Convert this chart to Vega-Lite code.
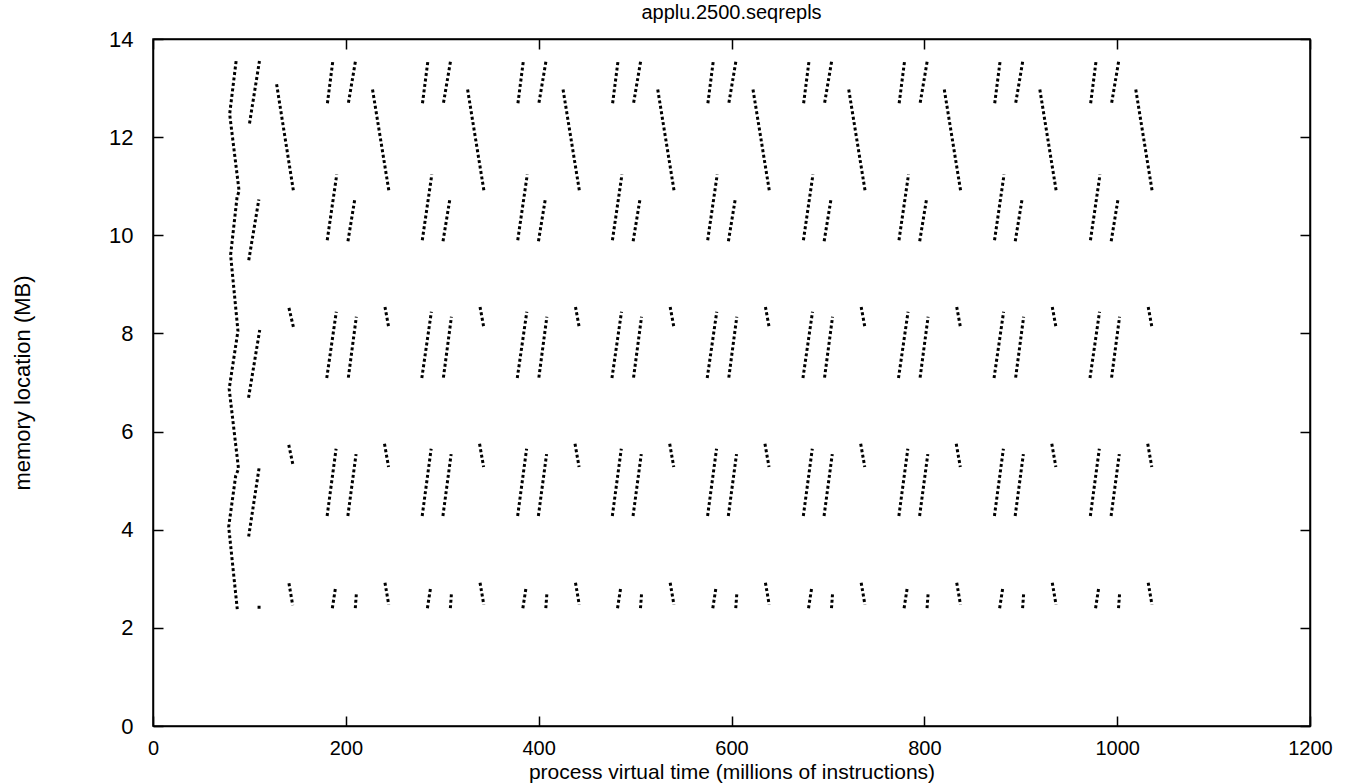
{
  "$schema": "https://vega.github.io/schema/vega-lite/v6.json",
  "autosize": {"type": "none"},
  "padding": {"left": 153, "top": 39, "right": 50, "bottom": 57},
  "width": 1157,
  "height": 687,
  "background": "white",
  "title": {"text": "applu.2500.seqrepls", "font": "Liberation Sans", "fontSize": 20, "fontWeight": "normal", "color": "black", "offset": 5},
  "config": {"view": {"stroke": "black", "strokeWidth": 1.5}},
  "datasets": {
    "segs": [
      {"p":1,"x":100.1,"y":12.28,"x2":110.4,"y2":13.55},
      {"p":1,"x":99.3,"y":9.49,"x2":109.8,"y2":10.73},
      {"p":1,"x":99.1,"y":6.69,"x2":110.7,"y2":8.07},
      {"p":1,"x":99.2,"y":3.86,"x2":110.2,"y2":5.28},
      {"p":1,"x":128.2,"y":13.08,"x2":145.6,"y2":10.91},
      {"p":1,"x":141.0,"y":8.52,"x2":146.0,"y2":8.10},
      {"p":1,"x":140.8,"y":5.73,"x2":145.5,"y2":5.29},
      {"p":1,"x":141.0,"y":2.91,"x2":144.9,"y2":2.46},

      {"p":2,"x":180.9,"y":12.69,"x2":186.5,"y2":13.55},
      {"p":2,"x":202.7,"y":12.70,"x2":210.0,"y2":13.55},
      {"p":2,"x":227.7,"y":12.97,"x2":244.7,"y2":10.90},
      {"p":2,"x":180.7,"y":9.90,"x2":190.6,"y2":11.24},
      {"p":2,"x":202.2,"y":9.88,"x2":209.4,"y2":10.75},
      {"p":2,"x":240.6,"y":8.54,"x2":244.6,"y2":8.11},
      {"p":2,"x":180.2,"y":7.09,"x2":190.1,"y2":8.44},
      {"p":2,"x":202.6,"y":7.10,"x2":210.9,"y2":8.34},
      {"p":2,"x":240.1,"y":5.75,"x2":244.3,"y2":5.28},
      {"p":2,"x":180.6,"y":4.28,"x2":189.9,"y2":5.65},
      {"p":2,"x":202.1,"y":4.28,"x2":210.6,"y2":5.54},
      {"p":2,"x":240.6,"y":2.92,"x2":244.5,"y2":2.47},
      {"p":2,"x":186.0,"y":2.40,"x2":189.3,"y2":2.82},
      {"p":2,"x":209.8,"y":2.40,"x2":211.0,"y2":2.72},

      {"p":3,"x":279.5,"y":12.69,"x2":285.1,"y2":13.55},
      {"p":3,"x":301.3,"y":12.70,"x2":308.6,"y2":13.55},
      {"p":3,"x":326.3,"y":12.97,"x2":343.3,"y2":10.90},
      {"p":3,"x":279.3,"y":9.90,"x2":289.2,"y2":11.24},
      {"p":3,"x":300.8,"y":9.88,"x2":308.0,"y2":10.75},
      {"p":3,"x":339.2,"y":8.54,"x2":343.2,"y2":8.11},
      {"p":3,"x":278.8,"y":7.09,"x2":288.7,"y2":8.44},
      {"p":3,"x":301.2,"y":7.10,"x2":309.5,"y2":8.34},
      {"p":3,"x":338.7,"y":5.75,"x2":342.9,"y2":5.28},
      {"p":3,"x":279.2,"y":4.28,"x2":288.5,"y2":5.65},
      {"p":3,"x":300.7,"y":4.28,"x2":309.2,"y2":5.54},
      {"p":3,"x":339.2,"y":2.92,"x2":343.1,"y2":2.47},
      {"p":3,"x":284.6,"y":2.40,"x2":287.9,"y2":2.82},
      {"p":3,"x":308.4,"y":2.40,"x2":309.6,"y2":2.72},

      {"p":4,"x":378.5,"y":12.69,"x2":384.1,"y2":13.55},
      {"p":4,"x":400.3,"y":12.70,"x2":407.6,"y2":13.55},
      {"p":4,"x":425.3,"y":12.97,"x2":442.3,"y2":10.90},
      {"p":4,"x":378.3,"y":9.90,"x2":388.2,"y2":11.24},
      {"p":4,"x":399.8,"y":9.88,"x2":407.0,"y2":10.75},
      {"p":4,"x":438.2,"y":8.54,"x2":442.2,"y2":8.11},
      {"p":4,"x":377.8,"y":7.09,"x2":387.7,"y2":8.44},
      {"p":4,"x":400.2,"y":7.10,"x2":408.5,"y2":8.34},
      {"p":4,"x":437.7,"y":5.75,"x2":441.9,"y2":5.28},
      {"p":4,"x":378.2,"y":4.28,"x2":387.5,"y2":5.65},
      {"p":4,"x":399.7,"y":4.28,"x2":408.2,"y2":5.54},
      {"p":4,"x":438.2,"y":2.92,"x2":442.1,"y2":2.47},
      {"p":4,"x":383.6,"y":2.40,"x2":386.9,"y2":2.82},
      {"p":4,"x":407.4,"y":2.40,"x2":408.6,"y2":2.72},

      {"p":5,"x":476.7,"y":12.69,"x2":482.3,"y2":13.55},
      {"p":5,"x":498.5,"y":12.70,"x2":505.8,"y2":13.55},
      {"p":5,"x":523.5,"y":12.97,"x2":540.5,"y2":10.90},
      {"p":5,"x":476.5,"y":9.90,"x2":486.4,"y2":11.24},
      {"p":5,"x":498.0,"y":9.88,"x2":505.2,"y2":10.75},
      {"p":5,"x":536.4,"y":8.54,"x2":540.4,"y2":8.11},
      {"p":5,"x":476.0,"y":7.09,"x2":485.9,"y2":8.44},
      {"p":5,"x":498.4,"y":7.10,"x2":506.7,"y2":8.34},
      {"p":5,"x":535.9,"y":5.75,"x2":540.1,"y2":5.28},
      {"p":5,"x":476.4,"y":4.28,"x2":485.7,"y2":5.65},
      {"p":5,"x":497.9,"y":4.28,"x2":506.4,"y2":5.54},
      {"p":5,"x":536.4,"y":2.92,"x2":540.3,"y2":2.47},
      {"p":5,"x":481.8,"y":2.40,"x2":485.1,"y2":2.82},
      {"p":5,"x":505.6,"y":2.40,"x2":506.8,"y2":2.72},

      {"p":6,"x":575.5,"y":12.69,"x2":581.1,"y2":13.55},
      {"p":6,"x":597.3,"y":12.70,"x2":604.6,"y2":13.55},
      {"p":6,"x":622.3,"y":12.97,"x2":639.3,"y2":10.90},
      {"p":6,"x":575.3,"y":9.90,"x2":585.2,"y2":11.24},
      {"p":6,"x":596.8,"y":9.88,"x2":604.0,"y2":10.75},
      {"p":6,"x":635.2,"y":8.54,"x2":639.2,"y2":8.11},
      {"p":6,"x":574.8,"y":7.09,"x2":584.7,"y2":8.44},
      {"p":6,"x":597.2,"y":7.10,"x2":605.5,"y2":8.34},
      {"p":6,"x":634.7,"y":5.75,"x2":638.9,"y2":5.28},
      {"p":6,"x":575.2,"y":4.28,"x2":584.5,"y2":5.65},
      {"p":6,"x":596.7,"y":4.28,"x2":605.2,"y2":5.54},
      {"p":6,"x":635.2,"y":2.92,"x2":639.1,"y2":2.47},
      {"p":6,"x":580.6,"y":2.40,"x2":583.9,"y2":2.82},
      {"p":6,"x":604.4,"y":2.40,"x2":605.6,"y2":2.72},

      {"p":7,"x":674.8,"y":12.69,"x2":680.4,"y2":13.55},
      {"p":7,"x":696.6,"y":12.70,"x2":703.9,"y2":13.55},
      {"p":7,"x":721.6,"y":12.97,"x2":738.6,"y2":10.90},
      {"p":7,"x":674.6,"y":9.90,"x2":684.5,"y2":11.24},
      {"p":7,"x":696.1,"y":9.88,"x2":703.3,"y2":10.75},
      {"p":7,"x":734.5,"y":8.54,"x2":738.5,"y2":8.11},
      {"p":7,"x":674.1,"y":7.09,"x2":684.0,"y2":8.44},
      {"p":7,"x":696.5,"y":7.10,"x2":704.8,"y2":8.34},
      {"p":7,"x":734.0,"y":5.75,"x2":738.2,"y2":5.28},
      {"p":7,"x":674.5,"y":4.28,"x2":683.8,"y2":5.65},
      {"p":7,"x":696.0,"y":4.28,"x2":704.5,"y2":5.54},
      {"p":7,"x":734.5,"y":2.92,"x2":738.4,"y2":2.47},
      {"p":7,"x":679.9,"y":2.40,"x2":683.2,"y2":2.82},
      {"p":7,"x":703.7,"y":2.40,"x2":704.9,"y2":2.72},

      {"p":8,"x":773.9,"y":12.69,"x2":779.5,"y2":13.55},
      {"p":8,"x":795.7,"y":12.70,"x2":803.0,"y2":13.55},
      {"p":8,"x":820.7,"y":12.97,"x2":837.7,"y2":10.90},
      {"p":8,"x":773.7,"y":9.90,"x2":783.6,"y2":11.24},
      {"p":8,"x":795.2,"y":9.88,"x2":802.4,"y2":10.75},
      {"p":8,"x":833.6,"y":8.54,"x2":837.6,"y2":8.11},
      {"p":8,"x":773.2,"y":7.09,"x2":783.1,"y2":8.44},
      {"p":8,"x":795.6,"y":7.10,"x2":803.9,"y2":8.34},
      {"p":8,"x":833.1,"y":5.75,"x2":837.3,"y2":5.28},
      {"p":8,"x":773.6,"y":4.28,"x2":782.9,"y2":5.65},
      {"p":8,"x":795.1,"y":4.28,"x2":803.6,"y2":5.54},
      {"p":8,"x":833.6,"y":2.92,"x2":837.5,"y2":2.47},
      {"p":8,"x":779.0,"y":2.40,"x2":782.3,"y2":2.82},
      {"p":8,"x":802.8,"y":2.40,"x2":804.0,"y2":2.72},

      {"p":9,"x":873.0,"y":12.69,"x2":878.6,"y2":13.55},
      {"p":9,"x":894.8,"y":12.70,"x2":902.1,"y2":13.55},
      {"p":9,"x":919.8,"y":12.97,"x2":936.8,"y2":10.90},
      {"p":9,"x":872.8,"y":9.90,"x2":882.7,"y2":11.24},
      {"p":9,"x":894.3,"y":9.88,"x2":901.5,"y2":10.75},
      {"p":9,"x":932.7,"y":8.54,"x2":936.7,"y2":8.11},
      {"p":9,"x":872.3,"y":7.09,"x2":882.2,"y2":8.44},
      {"p":9,"x":894.7,"y":7.10,"x2":903.0,"y2":8.34},
      {"p":9,"x":932.2,"y":5.75,"x2":936.4,"y2":5.28},
      {"p":9,"x":872.7,"y":4.28,"x2":882.0,"y2":5.65},
      {"p":9,"x":894.2,"y":4.28,"x2":902.7,"y2":5.54},
      {"p":9,"x":932.7,"y":2.92,"x2":936.6,"y2":2.47},
      {"p":9,"x":878.1,"y":2.40,"x2":881.4,"y2":2.82},
      {"p":9,"x":901.9,"y":2.40,"x2":903.1,"y2":2.72},

      {"p":10,"x":972.5,"y":12.69,"x2":978.1,"y2":13.55},
      {"p":10,"x":994.3,"y":12.70,"x2":1001.6,"y2":13.55},
      {"p":10,"x":1019.3,"y":12.97,"x2":1036.3,"y2":10.90},
      {"p":10,"x":972.3,"y":9.90,"x2":982.2,"y2":11.24},
      {"p":10,"x":993.8,"y":9.88,"x2":1001.0,"y2":10.75},
      {"p":10,"x":1032.2,"y":8.54,"x2":1036.2,"y2":8.11},
      {"p":10,"x":971.8,"y":7.09,"x2":981.7,"y2":8.44},
      {"p":10,"x":994.2,"y":7.10,"x2":1002.5,"y2":8.34},
      {"p":10,"x":1031.7,"y":5.75,"x2":1035.9,"y2":5.28},
      {"p":10,"x":972.2,"y":4.28,"x2":981.5,"y2":5.65},
      {"p":10,"x":993.7,"y":4.28,"x2":1002.2,"y2":5.54},
      {"p":10,"x":1032.2,"y":2.92,"x2":1036.1,"y2":2.47},
      {"p":10,"x":977.6,"y":2.40,"x2":980.9,"y2":2.82},
      {"p":10,"x":1001.4,"y":2.40,"x2":1002.6,"y2":2.72}
    ],
    "curve": [
      {"i":0,"x":86.2,"y":13.55},
      {"i":1,"x":79.5,"y":12.47},
      {"i":2,"x":89.3,"y":10.90},
      {"i":3,"x":87.2,"y":10.78},
      {"i":4,"x":80.5,"y":9.60},
      {"i":5,"x":88.1,"y":8.05},
      {"i":6,"x":79.0,"y":6.87},
      {"i":7,"x":88.7,"y":5.24},
      {"i":8,"x":85.7,"y":5.09},
      {"i":9,"x":78.5,"y":4.06},
      {"i":10,"x":87.4,"y":2.38}
    ],
    "dots": [
      {"x":110.0,"y":2.42}
    ]
  },
  "layer": [
    {
      "layer": [
        {
          "data": {"name": "segs"},
          "mark": {"type": "rule", "color": "black", "strokeWidth": 3, "strokeDash": [3, 2.5]},
          "encoding": {
            "x": {"field": "x", "type": "quantitative", "scale": {"domain": [0, 1200], "nice": false, "zero": false},
              "axis": {"values": [0, 200, 400, 600, 800, 1000, 1200], "format": "d", "grid": false, "tickSize": -10, "tickWidth": 1.5, "tickColor": "black", "domainColor": "black", "domainWidth": 1.5, "labelPadding": 22, "labelFont": "Liberation Sans", "labelFontSize": 20, "labelColor": "black", "title": "process virtual time (millions of instructions)", "titleFont": "Liberation Sans", "titleFontSize": 21, "titleFontWeight": "normal", "titleColor": "black", "titlePadding": 3, "labelFlush": false, "labelOverlap": false}},
            "y": {"field": "y", "type": "quantitative", "scale": {"domain": [0, 14], "nice": false, "zero": false},
              "axis": {"values": [0, 2, 4, 6, 8, 10, 12, 14], "format": "d", "grid": false, "tickSize": -10, "tickWidth": 1.5, "tickColor": "black", "domainColor": "black", "domainWidth": 1.5, "labelPadding": 30, "labelFont": "Liberation Sans", "labelFontSize": 22, "labelColor": "black", "title": "memory location (MB)", "titleFont": "Liberation Sans", "titleFontSize": 22, "titleFontWeight": "normal", "titleColor": "black", "titlePadding": 74, "labelFlush": false, "labelOverlap": false}},
            "x2": {"field": "x2"},
            "y2": {"field": "y2"}
          }
        },
        {
          "data": {"name": "curve"},
          "mark": {"type": "line", "color": "black", "strokeWidth": 3, "strokeDash": [3, 2.5]},
          "encoding": {
            "x": {"field": "x", "type": "quantitative"},
            "y": {"field": "y", "type": "quantitative"},
            "order": {"field": "i", "type": "quantitative"}
          }
        },
        {
          "data": {"name": "dots"},
          "mark": {"type": "square", "color": "black", "filled": true, "opacity": 1, "size": 9},
          "encoding": {
            "x": {"field": "x", "type": "quantitative"},
            "y": {"field": "y", "type": "quantitative"}
          }
        }
      ]
    },
    {
      "data": {"name": "dots"},
      "mark": {"type": "point", "opacity": 0},
      "encoding": {
        "x": {"field": "x", "type": "quantitative", "scale": {"domain": [0, 1200], "nice": false, "zero": false},
          "axis": {"orient": "top", "values": [0, 200, 400, 600, 800, 1000, 1200], "labels": false, "title": null, "grid": false, "tickSize": -10, "tickWidth": 1.5, "tickColor": "black", "domainColor": "black", "domainWidth": 1.5}},
        "y": {"field": "y", "type": "quantitative", "scale": {"domain": [0, 14], "nice": false, "zero": false},
          "axis": {"orient": "right", "values": [0, 2, 4, 6, 8, 10, 12, 14], "labels": false, "title": null, "grid": false, "tickSize": -10, "tickWidth": 1.5, "tickColor": "black", "domainColor": "black", "domainWidth": 1.5}}
      }
    }
  ],
  "resolve": {"scale": {"x": "independent", "y": "independent"}, "axis": {"x": "independent", "y": "independent"}}
}
